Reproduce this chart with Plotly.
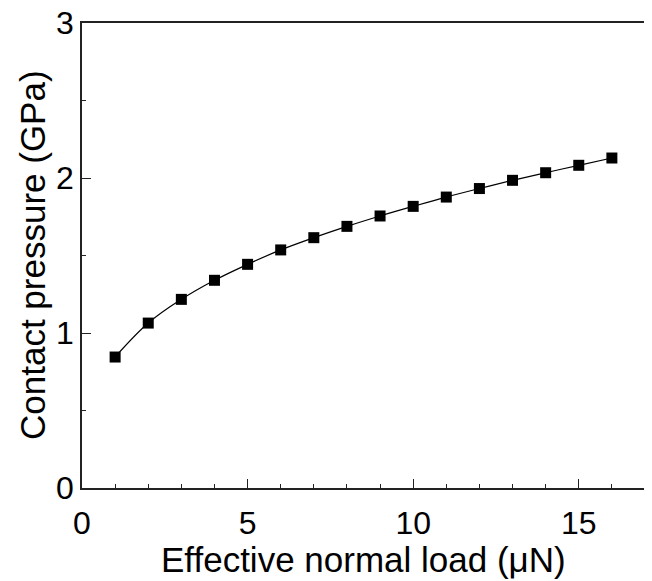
import plotly.graph_objects as go

load_uN = [1, 2, 3, 4, 5, 6, 7, 8, 9, 10, 11, 12, 13, 14, 15, 16]
pressure_GPa = [0.845, 1.064, 1.217, 1.340, 1.443, 1.536, 1.615, 1.688, 1.755,
                1.817, 1.877, 1.932, 1.985, 2.034, 2.082, 2.129]

x_ticks = [0, 5, 10, 15]
y_ticks = [0, 1, 2, 3]

x_title = "Effective normal load (μN)"
y_title = "Contact pressure (GPa)"

TICK_FONT = dict(family="Liberation Sans, Arial, sans-serif", size=32, color="black")
TITLE_FONT = dict(family="Liberation Sans, Arial, sans-serif", size=35, color="black")

fig = go.Figure()
fig.add_trace(go.Scatter(
    x=load_uN, y=pressure_GPa,
    mode="lines+markers",
    line=dict(color="black", width=1.2, shape="spline"),
    marker=dict(symbol="square", size=11, color="black"),
    showlegend=False,
))

axis_common = dict(
    showgrid=False, zeroline=False, automargin=False,
    showline=True, linecolor="#222", linewidth=1.5, mirror=True,
    ticks="inside", ticklen=9, tickwidth=1.2, tickcolor="#222",
    tickfont=TICK_FONT, ticklabeloverflow="allow",
)

fig.update_xaxes(
    range=[0, 17], tickvals=x_ticks,
    minor=dict(dtick=1, ticks="inside", ticklen=4, tickcolor="#222", tickwidth=1),
    ticklabelstandoff=6,
    **axis_common,
)
fig.update_yaxes(
    range=[0, 3], tickvals=y_ticks,
    minor=dict(dtick=0.5, ticks="inside", ticklen=4, tickcolor="#222", tickwidth=1),
    ticklabelstandoff=0,
    **axis_common,
)

fig.add_annotation(
    text=x_title, xref="paper", yref="paper", x=0.5, y=0,
    xanchor="center", yanchor="top", yshift=-50, showarrow=False, font=TITLE_FONT,
)
fig.add_annotation(
    text=y_title, xref="paper", yref="paper", x=0, y=0.5, textangle=-90,
    xanchor="right", yanchor="middle", xshift=-28, showarrow=False, font=TITLE_FONT,
)

# page body has an 8px margin, so the figure is sized to fit the window
fig.update_layout(
    width=644, height=573,
    margin=dict(l=74, r=7, t=15, b=93),
    paper_bgcolor="white", plot_bgcolor="white",
)

fig.write_html("out.html")
